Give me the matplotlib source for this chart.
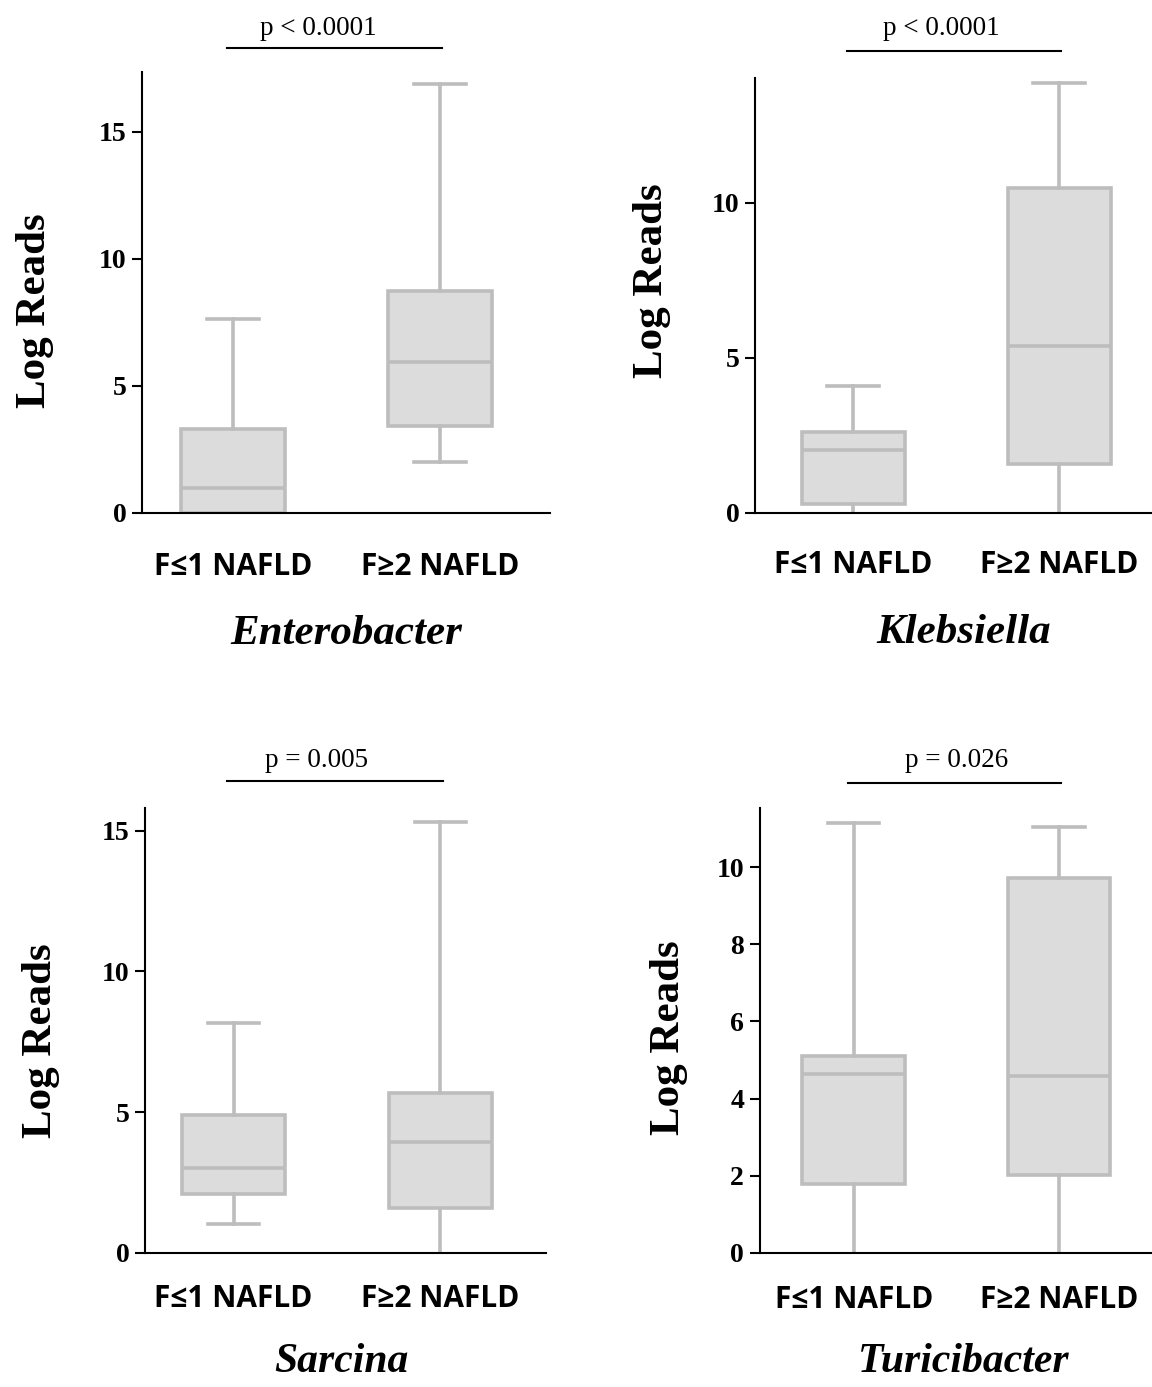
import matplotlib.pyplot as plt

# Datos (log reads)
groups = ['F≤1 NAFLD', 'F≥2 NAFLD']
taxa = ['Enterobacter', 'Klebsiella', 'Sarcina', 'Turicibacter']
p_labels = ['p < 0.0001', 'p < 0.0001', 'p = 0.005', 'p = 0.026']

# por taxón: [grupo F≤1, grupo F≥2]
whislo = [[0.0, 2.0], [0.0, 0.0], [1.03, 0.0], [0.0, 0.0]]
q1 = [[0.0, 3.42], [0.29, 1.58], [2.1, 1.6], [1.78, 2.03]]
med = [[0.98, 5.94], [2.03, 5.39], [3.02, 3.94], [4.63, 4.58]]
q3 = [[3.3, 8.74], [2.61, 10.48], [4.89, 5.67], [5.11, 9.71]]
whishi = [[7.65, 16.9], [4.1, 13.87], [8.18, 15.3], [11.15, 11.04]]

yticks = [[0, 5, 10, 15], [0, 5, 10], [0, 5, 10, 15], [0, 2, 4, 6, 8, 10]]
ytops = [17.36, 14.03, 15.8, 11.53]

# Posición de cada panel en píxeles (izq, abajo, ancho, alto) y límites en x
W, H = 1152, 1387
rects_px = [(142, 513, 408, 441), (755, 513, 405, 435),
            (145, 1253, 401, 445), (759.5, 1253, 400, 445)]
xlims = [(0.56, 2.53), (0.524, 2.49), (0.572, 2.51), (0.541, 2.49)]
ylab_pos = [(-0.262, 0.458), (-0.254, 0.533), (-0.259, 0.476), (-0.226, 0.483)]
title_pos = [(0.5, -0.275), (0.514, -0.276), (0.489, -0.245), (0.511, -0.245)]
title_size = [31, 31, 30, 30]
xpad = [28, 27, 22, 23]
pline_y = [1.054, 1.062, 1.061, 1.056]
ptext_y = [1.098, 1.113, 1.106, 1.106]
ptext_x = [1.41, 1.43, 1.40, 1.50]

box_fc = '#dcdcdc'
box_ec = '#bdbdbd'
serif = 'Liberation Serif'
positions = [1, 2]

fig = plt.figure(figsize=(W / 100, H / 100), dpi=100)

for i, taxon in enumerate(taxa):
    l, b, w, h = rects_px[i]
    ax = fig.add_axes([l / W, 1 - b / H, w / W, h / H])

    stats = []
    for g in range(2):
        stats.append(dict(whislo=whislo[i][g], q1=q1[i][g], med=med[i][g],
                          q3=q3[i][g], whishi=whishi[i][g], fliers=[]))
    art = ax.bxp(stats, positions=positions, widths=0.5, capwidths=0.25,
                 patch_artist=True, showfliers=False,
                 boxprops=dict(facecolor=box_fc, edgecolor=box_ec, linewidth=2.6),
                 whiskerprops=dict(color=box_ec, linewidth=2.6),
                 capprops=dict(color=box_ec, linewidth=2.6),
                 medianprops=dict(color=box_ec, linewidth=2.6))
    # ocultar los topes que caen sobre el eje (valor 0)
    for g in range(2):
        if whislo[i][g] == 0:
            art['caps'][2 * g].set_visible(False)

    ax.set_xlim(*xlims[i])
    ax.set_ylim(0, ytops[i])
    ax.spines['top'].set_visible(False)
    ax.spines['right'].set_visible(False)
    ax.spines['left'].set_linewidth(1.5)
    ax.spines['bottom'].set_linewidth(1.5)

    ax.set_yticks(yticks[i])
    ax.set_yticklabels([str(t) for t in yticks[i]], fontfamily=serif,
                       fontweight='bold', fontsize=20)
    ax.tick_params(axis='y', length=7, width=1.5, pad=4)
    ax.set_xticks(positions, groups, fontfamily=['Open Sans', 'DejaVu Sans'],
                  fontweight='bold', fontsize=21.5)
    ax.tick_params(axis='x', length=0, pad=xpad[i])

    ax.set_ylabel('Log Reads', fontfamily=serif, fontweight='bold',
                  fontsize=31, va='center')
    ax.yaxis.set_label_coords(*ylab_pos[i])
    ax.set_xlabel(taxon, fontfamily=serif, fontweight='bold', style='italic',
                  fontsize=title_size[i], va='center')
    ax.xaxis.set_label_coords(*title_pos[i])

    # barra de significancia
    ax.plot([0.97, 2.01], [pline_y[i], pline_y[i]], color='black', lw=1.5,
            transform=ax.get_xaxis_transform(), clip_on=False)
    ax.text(ptext_x[i], ptext_y[i], p_labels[i], transform=ax.get_xaxis_transform(),
            ha='center', va='center', fontfamily=serif, fontsize=19.5)

fig.savefig('out.png', dpi=100)
